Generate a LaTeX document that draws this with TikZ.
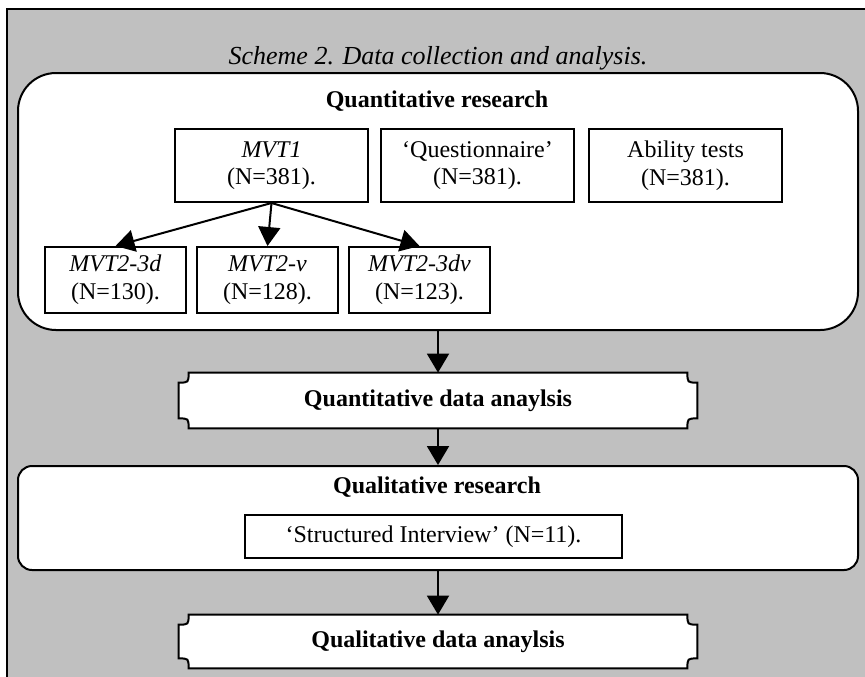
\documentclass[tikz,border=0pt]{standalone}
\usepackage{fontspec}
\setmainfont{Liberation Serif}
\usetikzlibrary{arrows.meta, positioning, backgrounds}
\definecolor{panel}{HTML}{C0C0C0}

% outline with concave (cut-in) corners around a node
\newcommand{\plaque}[1]{%
  \filldraw[fill=white, line width=1pt]
    ([xshift=5pt]#1.north west) -- ([xshift=-5pt]#1.north east)
    .. controls ([xshift=-5pt,yshift=-5pt]#1.north east) .. ([yshift=-5pt]#1.north east)
    -- ([yshift=5pt]#1.south east)
    .. controls ([xshift=-5pt,yshift=5pt]#1.south east) .. ([xshift=-5pt]#1.south east)
    -- ([xshift=5pt]#1.south west)
    .. controls ([xshift=5pt,yshift=5pt]#1.south west) .. ([yshift=5pt]#1.south west)
    -- ([yshift=-5pt]#1.north west)
    .. controls ([xshift=5pt,yshift=-5pt]#1.north west) .. ([xshift=5pt]#1.north west)
    -- cycle;}

\begin{document}
\begin{tikzpicture}[x=0.5pt, y=-0.5pt,
    >={Triangle[width=11pt,length=9.5pt]},
    box/.style  ={draw, line width=1pt, fill=white, align=center,
                  inner sep=2pt, font=\fontsize{12}{13.8}\selectfont},
    src/.style  ={box, minimum width=96.5pt, minimum height=36.5pt},
    sub/.style  ={box, minimum width=70.5pt, minimum height=33pt},
    stage/.style={draw, line width=1pt, fill=white, rounded corners=19pt,
                  minimum width=420pt},
    plq/.style  ={minimum width=259pt, font=\fontsize{12}{14}\selectfont\bfseries},
    head/.style ={font=\fontsize{12}{14}\selectfont\bfseries},
    flow/.style ={->, line width=1pt},
]
\useasboundingbox (0,0) rectangle (865,676);
\clip (0,0) rectangle (865,676);

\node[font=\fontsize{13}{15}\selectfont\itshape] (title) at (438,58)
  {Scheme 2. Data collection and analysis.};

% quantitative stage
\node[stage, minimum height=128.5pt] (quant) at (438,201.5) {};
\node[head] (quanthead) at (437,101) {Quantitative research};
\node[src] (mvt1) at (271.5,165.5) {\textit{MVT1}\\(N=381).};
\node[src, right=5.5pt of mvt1] (quest) {‘Questionnaire’\\(N=381).};
\node[src, right=6.5pt of quest] (ability) {Ability tests\\(N=381).};
\node[sub] (mvtv) at (267.5,280) {\textit{MVT2-v}\\(N=128).};
\node[sub, left=4.5pt of mvtv] (mvtd) {\textit{MVT2-3d}\\(N=130).};
\node[sub, right=4.5pt of mvtv] (mvtdv) {\textit{MVT2-3dv}\\(N=123).};
\draw[flow] (mvt1.south) -- (mvtd.north);
\draw[flow] (mvt1.south) -- (mvtv.north);
\draw[flow] (mvt1.south) -- (mvtdv.north);

\node[plq, minimum height=27.5pt] (quantana) at (438,400.5) {Quantitative data anaylsis};

% qualitative stage
\node[stage, rounded corners=7pt, minimum height=52pt] (qual) at (438,518) {};
\node[head] (qualhead) at (437,487) {Qualitative research};
\node[box, minimum width=188.5pt, minimum height=21.5pt] (interview) at (433.5,536.5)
  {‘Structured Interview’ (N=11).};

\node[plq, minimum height=26.5pt] (qualana) at (438,641.5) {Qualitative data anaylsis};

\draw[flow] (quant.south) -- (quantana.north);
\draw[flow] (quantana.south) -- (qual.north);
\draw[flow] (qual.south) -- (qualana.north);

\begin{scope}[on background layer]
  \fill[panel] (7,9) rectangle (900,700);
  \draw[line width=1pt] (900,9) -- (7,9) -- (7,700);
  \plaque{quantana}
  \plaque{qualana}
\end{scope}
\end{tikzpicture}
\end{document}
